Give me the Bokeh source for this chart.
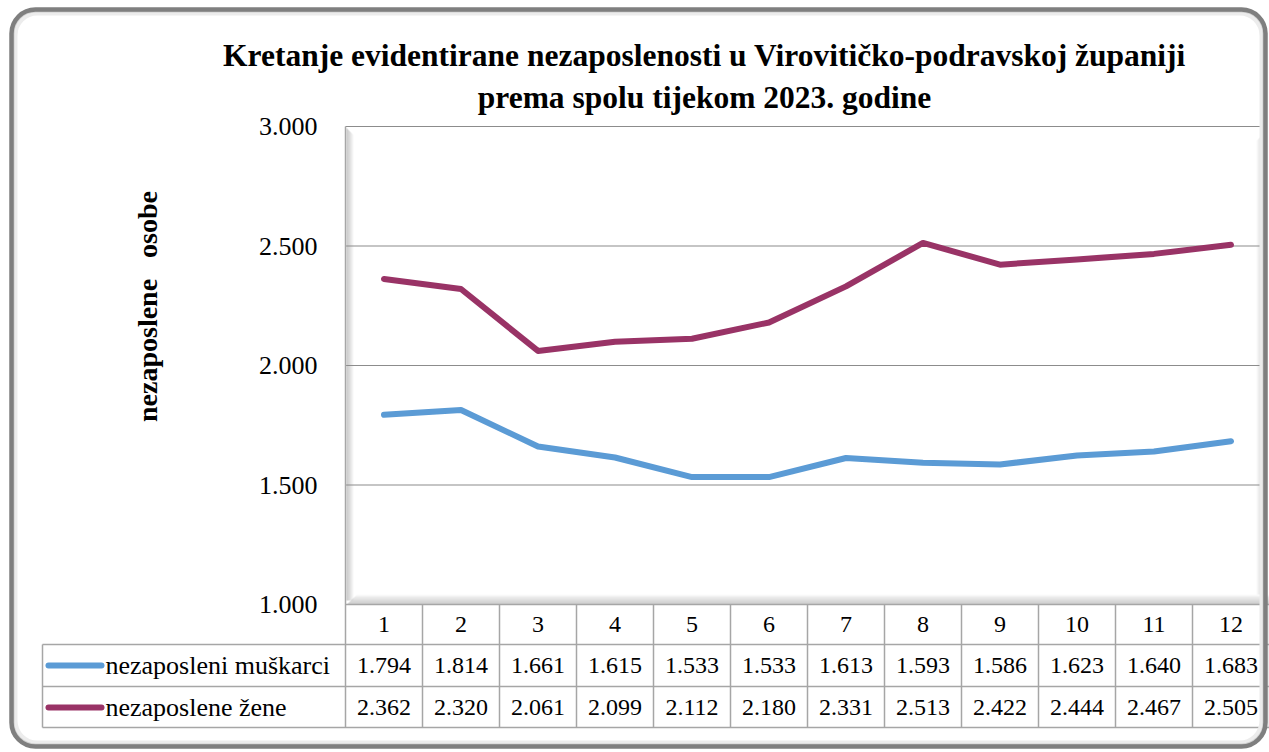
import math
from bokeh.plotting import figure
from bokeh.models import (Range1d, Label, LabelSet, ColumnDataSource,
                          BoxAnnotation, Whisker, Arrow)
from bokeh.core.properties import value
from bokeh.embed import file_html
from bokeh.resources import INLINE

# ---------------- data ----------------
months = ["1", "2", "3", "4", "5", "6", "7", "8", "9", "10", "11", "12"]
men = [1794, 1814, 1661, 1615, 1533, 1533, 1613, 1593, 1586, 1623, 1640, 1683]
women = [2362, 2320, 2061, 2099, 2112, 2180, 2331, 2513, 2422, 2444, 2467, 2505]
series_names = ["nezaposleni muškarci", "nezaposlene žene"]
y_ticks = [1000, 1500, 2000, 2500, 3000]
y_tick_labels = ["1.000", "1.500", "2.000", "2.500", "3.000"]
title_lines = ["Kretanje evidentirane nezaposlenosti u Virovitičko-podravskoj županiji",
               "prema spolu tijekom 2023. godine"]
y_label = "nezaposlene\u00a0\u00a0\u00a0osobe"

# ---------------- layout (page pixels) ----------------
W, H = 1269, 752
SERIF = "Liberation Serif"
BLUE = "#5B9BD5"
MAROON = "#993366"
GRID = "#8c8c8c"
TABLE = "#a6a6a6"

PA_L, PA_T, PA_B = 345, 126, 604      # plot area left / top / bottom
CELL = 77                              # width of one month column
Y0, Y1 = y_ticks[0], y_ticks[-1]
PPU = (PA_B - PA_T) / (Y1 - Y0)        # pixels per unit


def sy(y):  # page y (from top) -> screen y (from bottom)
    return H - y


xs = list(range(1, len(months) + 1))
x_start = 0.5 - PA_L / CELL
x_end = x_start + W / CELL
y_start = Y0 - (H - PA_B) / PPU
y_end = Y1 + PA_T / PPU

p = figure(width=W, height=H, x_range=Range1d(x_start, x_end), y_range=Range1d(y_start, y_end),
           output_backend="svg", toolbar_location=None, min_border=0)
p.axis.visible = False
p.grid.visible = False
p.outline_line_color = None
p.background_fill_color = "white"
p.border_fill_color = "white"


def sbox(l, r, t, b, color, alpha):
    return BoxAnnotation(left=l, right=r, top=sy(t), bottom=sy(b),
                         left_units="screen", right_units="screen", top_units="screen",
                         bottom_units="screen", fill_color=color, fill_alpha=alpha,
                         line_color=None, level="underlay")


# 3D-like wall / floor shading of the plot area
for i in range(7):
    p.add_layout(sbox(PA_L + 1 + i, PA_L + 2 + i, PA_T + 2 + i, PA_B - 4, "#808080", 0.45 * (1 - i / 7)))
for i in range(10):
    p.add_layout(sbox(PA_L + 2 + i, W, PA_B - i - 1, PA_B - i, "#808080", 0.45 * (1 - i / 10)))
for i in range(9):
    p.add_layout(sbox(W - 4 - i - 1, W - 4 - i, PA_T + 6 + i, PA_B - 10, "#808080", 0.45 * (1 - i / 9)))

# horizontal gridlines (value grid)
p.add_layout(Whisker(source=ColumnDataSource(dict(base=y_ticks[1:])), base="base",
                     lower=PA_L, upper=W - 6, dimension="width",
                     base_units="data", lower_units="screen", upper_units="screen",
                     lower_head=None, upper_head=None, line_color=GRID, line_width=1.2))

# y tick labels
p.add_layout(LabelSet(source=ColumnDataSource(dict(y=y_ticks, t=y_tick_labels)),
                      x=PA_L - 28, y="y", text="t", x_units="screen",
                      text_align="right", text_baseline="middle", text_font=value(SERIF),
                      text_font_size="26px", text_color="black"))

# series lines
p.line(xs, men, line_width=6, line_color=BLUE, line_join="round", line_cap="round")
p.line(xs, women, line_width=6, line_color=MAROON, line_join="round", line_cap="round")

# ---------------- data table ----------------
ROW_H = [PA_B, 644, 686, 727]
TAB_L = 42
vsrc = ColumnDataSource(dict(base=[i + 0.5 for i in range(1, len(months) + 1)]))
p.add_layout(Whisker(source=vsrc, base="base", lower=sy(ROW_H[-1]), upper=sy(PA_B), dimension="height",
                     base_units="data", lower_units="screen", upper_units="screen",
                     lower_head=None, upper_head=None, line_color=TABLE, line_width=1.5))
lsrc = ColumnDataSource(dict(base=[TAB_L, PA_L], lower=[sy(ROW_H[-1])] * 2, upper=[sy(ROW_H[1]), sy(PA_T)]))
p.add_layout(Whisker(source=lsrc, base="base", lower="lower", upper="upper", dimension="height",
                     base_units="screen", lower_units="screen", upper_units="screen",
                     lower_head=None, upper_head=None, line_color=TABLE, line_width=1.5))
hsrc = ColumnDataSource(dict(base=[sy(v) for v in ROW_H],
                             lower=[PA_L, TAB_L, TAB_L, TAB_L], upper=[W] * 4))
p.add_layout(Whisker(source=hsrc, base="base", lower="lower", upper="upper", dimension="width",
                     base_units="screen", lower_units="screen", upper_units="screen",
                     lower_head=None, upper_head=None, line_color=TABLE, line_width=1.5))

# header row: month numbers
p.add_layout(LabelSet(source=ColumnDataSource(dict(x=xs, t=months)), x="x", y=sy(624), text="t",
                      y_units="screen", text_align="center", text_baseline="middle",
                      text_font=value(SERIF), text_font_size="24px", text_color="black"))

row_y = [665, 707]
cell_x, cell_y, cell_t = [], [], []
for vals, ry in zip([men, women], row_y):
    for i, v in enumerate(vals):
        cell_x.append(xs[i])
        cell_y.append(sy(ry))
        cell_t.append(f"{v:,}".replace(",", "."))
p.add_layout(LabelSet(source=ColumnDataSource(dict(x=cell_x, y=cell_y, t=cell_t)),
                      x="x", y="y", text="t", y_units="screen", text_align="center",
                      text_baseline="middle", text_font=value(SERIF), text_font_size="24px",
                      text_color="black"))

for name, col, ry in zip(series_names, [BLUE, MAROON], row_y):
    p.add_layout(Arrow(x_start=48, y_start=sy(ry), x_end=101, y_end=sy(ry),
                       start_units="screen", end_units="screen", start=None, end=None,
                       line_color=col, line_width=6, line_cap="round"))
    p.add_layout(Label(x=105, y=sy(ry), text=name, x_units="screen", y_units="screen",
                       text_align="left", text_baseline="middle", text_font=SERIF,
                       text_font_size="26px", text_color="black"))

# ---------------- titles ----------------
for line, cy in zip(title_lines, [55, 97]):
    p.add_layout(Label(x=704, y=sy(cy), text=line, x_units="screen", y_units="screen",
                       text_align="center", text_baseline="middle", text_font=SERIF,
                       text_font_size="31.5px", text_font_style="bold", text_color="black"))

p.add_layout(Label(x=147, y=sy(306), text=y_label, x_units="screen", y_units="screen",
                   angle=math.pi / 2, text_align="center", text_baseline="middle",
                   text_font=SERIF, text_font_size="28px", text_font_style="bold",
                   text_color="black"))

# outer rounded border with soft inner shadow
for off, col, lw in [(4, "#ececec", 4), (2, "#cfcfcf", 2)]:
    p.add_layout(BoxAnnotation(left=11 + off, right=1265 - off, top=sy(9 + off), bottom=sy(746 - off),
                               left_units="screen", right_units="screen", top_units="screen",
                               bottom_units="screen", fill_color=None, line_color=col,
                               line_alpha=1.0, line_width=lw, border_radius=22))
p.add_layout(BoxAnnotation(left=11, right=1265, top=sy(9), bottom=sy(746),
                           left_units="screen", right_units="screen", top_units="screen",
                           bottom_units="screen", fill_color=None, line_color="#7f7f7f",
                           line_alpha=1.0, line_width=4.5, border_radius=24))

open("out.html", "w").write(file_html(p, INLINE))
